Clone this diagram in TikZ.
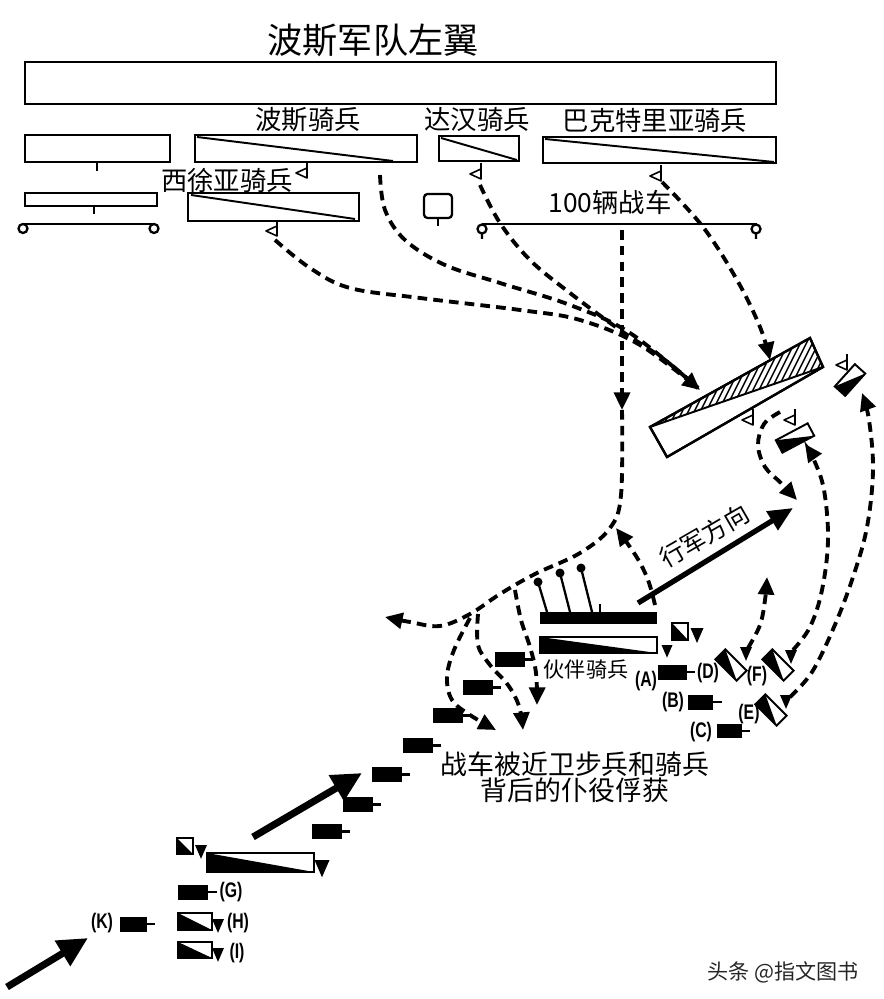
\documentclass[tikz,border=0pt]{standalone}
\usepackage{fontspec}
\setmainfont{Noto Sans CJK SC}
\newfontfamily\letterfont{Liberation Sans}[FakeStretch=0.75]
\usetikzlibrary{arrows.meta}

% open flag below a unit: stem and left-pointing triangle
\newcommand{\flagmark}[2]{%
  \draw[flagline] (#1,#2-11) -- (#1,#2+5);
  \draw[flagline] (#1,#2-5) -- (#1-11,#2) -- (#1,#2+5) -- cycle;}
% filled commander pennant (x, top, width)
\newcommand{\downmark}[3]{%
  \fill (#1-#3/2,#2) -- (#1+#3/2,#2) -- (#1,#2+#3*1.15) -- cycle;}

\begin{document}
\begin{tikzpicture}[
          x=0.02cm, y=-0.02cm,
          unitbox/.style={line width=1.3pt},
          unitslash/.style={line width=1.1pt},
          unitstem/.style={line width=1.3pt},
          flagline/.style={line width=0.9pt, line join=round},
          route/.style={line width=2.2pt, dash pattern=on 5.5pt off 3.5pt},
          routehead/.style={-{Triangle[length=10pt,width=9pt]}},
          thrust/.style={line width=4pt, -{Triangle[length=17pt,width=16pt]}},
          stub/.style={line width=1.3pt},
          lbl/.style={font=\fontsize{15}{15}\selectfont, inner sep=0pt},
          tag/.style={font=\letterfont\bfseries\fontsize{12}{12}\selectfont, inner sep=0pt},
          cavalry/.pic={
            \draw[line width=1.1pt, fill=white] (-15,-7) rectangle (15,7);
            \fill (-15,-7) -- (-15,7) -- (15,7) -- cycle;
          }
        ]
        \path[use as bounding box] (0,0) rectangle (884,999);

        % --- Ala izquierda persa ---
        \node[font=\fontsize{20}{20}\selectfont, inner sep=0pt] (title) at (373,40) {波斯军队左翼};
        \draw[unitbox] (25,62) rectangle (776,104);

        % --- Segunda fila ---
        \draw[unitbox] (25,135) rectangle (170,162);
        \draw[unitstem] (97,162) -- (97,171);
        \draw[unitbox] (195,135) rectangle (417,162);
        \draw[unitslash] (197,137) -- (393,161);
        \node[lbl] (persiancav) at (308,120) {波斯骑兵};
        \flagmark{307}{173}
        \draw[unitbox] (439,136) rectangle (519,161);
        \draw[unitslash] (441,138) -- (517,160);
        \node[lbl] (dahaecav) at (477,120) {达汉骑兵};
        \flagmark{481}{174}
        \draw[unitbox] (543,137) rectangle (776,163);
        \draw[unitslash] (545,139) -- (774,162);
        \node[lbl] (bactriancav) at (655,121) {巴克特里亚骑兵};
        \flagmark{661}{176}

        % --- Tercera fila ---
        \draw[unitbox] (25,193) rectangle (157,206);
        \draw[unitstem] (94,206) -- (94,214);
        \draw[unitstem] (23,224) -- (154,224);
        \draw[unitstem] (23,228.5) circle (4.5);
        \draw[unitstem] (154,228.5) circle (4.5);
        \node[lbl] (scythiancav) at (227,180) {西徐亚骑兵};
        \draw[unitbox] (188,193) rectangle (359,221);
        \draw[unitslash] (191,195) -- (355,219);
        \flagmark{277}{231}
        \draw[unitbox, rounded corners=2pt] (424,194) rectangle (452,218);
        \draw[unitstem] (438,218) -- (438,226);
        \node[lbl] (chariotlbl) at (610,202) {100辆战车};
        \draw[unitstem] (482,224) -- (757,224);
        \draw[unitstem] (482,229) circle (4.5) (482,233.5) -- (482,239);
        \draw[unitstem] (756,229) circle (4.5) (756,233.5) -- (756,239);

        % --- Rutas desde la ala persa ---
        \draw[route, routehead] plot[smooth, tension=0.6] coordinates
              {(275,240) (310,268) (350,288) (420,298) (520,310) (580,320) (640,345) (700,390)};
        \draw[route] plot[smooth, tension=0.6] coordinates
              {(380,175) (385,210) (405,240) (445,265) (500,283) (570,305) (630,333) (698,388)};
        \draw[route] plot[smooth, tension=0.6] coordinates
              {(480,185) (500,223) (530,260) (570,293) (620,330) (665,360) (698,388)};
        \draw[route, routehead] plot[smooth, tension=0.6] coordinates
              {(662,182) (703,227) (737,280) (760,327) (770,360)};

        % --- Ruta de los carros ---
        \draw[route, routehead] (622,230) -- (622,410);
        \draw[route, routehead] plot[smooth, tension=0.6] coordinates
              {(622,410) (621,495) (610,528) (580,553) (535,574) (500,594) (470,614) (440,626) (410,622) (385,617)};
        \draw[route, routehead] plot[smooth, tension=0.6] coordinates
              {(515,590) (521,620) (530,647) (536,673) (537,705)};
        \draw[route, routehead] plot[smooth, tension=0.6] coordinates
              {(478,614) (478,645) (490,665) (508,685) (519,706) (523,730)};
        \draw[route, routehead] plot[smooth, tension=0.6] coordinates
              {(470,618) (454,650) (447,677) (452,700) (470,715) (496,730)};
        \draw[route, routehead] plot[smooth, tension=0.6] coordinates
              {(655,605) (648,580) (636,556) (616,528)};

        % --- Caballeria bactriana atacada ---
        \draw[unitbox, fill=white] (650,427) -- (810,338) -- (823,367) -- (667,457) -- cycle;
        \begin{scope}
          \clip (650,427) -- (810,338) -- (823,367) -- cycle;
          \foreach \i in {0,...,42}
            \draw[line width=0.8pt] (580+\i*6,460) -- ++(70,-140);
        \end{scope}
        \draw[unitbox] (650,427) -- (810,338) -- (823,367) -- (667,457) -- cycle;
        \draw[unitslash] (650,427) -- (823,367);
        \flagmark{753}{420}

        % --- Unidades de la derecha ---
        \pic[rotate=48] at (850,380) {cavalry};
        \flagmark{847}{365}
        \pic[rotate=28, xscale=1.2] at (795,438) {cavalry};
        \flagmark{795}{420}
        \draw[route, routehead] plot[smooth, tension=0.6] coordinates
              {(780,412) (764,424) (758,445) (765,467) (781,483) (797,500)};
        \draw[route, routehead] plot[smooth, tension=0.6] coordinates
              {(793,650) (810,627) (822,590) (828,540) (824,490) (814,460) (805,444)};
        \draw[route, routehead] plot[smooth, tension=0.6] coordinates
              {(790,697) (812,672) (834,627) (853,577) (867,527) (873,470) (869,420) (862,393)};
        \draw[route, routehead] plot[smooth, tension=0.6] coordinates
              {(748,648) (760,625) (765,600) (767,577)};

        % --- Direccion de marcha ---
        \draw[thrust, line width=3pt, -{Triangle[length=14pt,width=12pt]}] (638,603) -- (793,508);
        \node[lbl, font=\fontsize{14}{14}\selectfont, rotate=30] (marchlbl) at (704,536) {行军方向};

        % --- Carros y caballeria de compañeros ---
        \fill (540,612) rectangle (657,624);
        \draw[unitstem] (600,612) -- (600,604);
        \foreach \sx/\dx/\dy in {547/538/582, 570/560/573, 592/581/568} {
          \draw[unitstem] (\sx,612) -- (\dx,\dy);
          \fill (\dx,\dy) circle (4.5);
        }
        \draw[unitbox, fill=white] (540,637) rectangle (657,653);
        \fill (540,637) -- (540,653) -- (657,653) -- cycle;
        \downmark{667}{645}{11}
        \node[lbl, font=\fontsize{12}{12}\selectfont] (companion) at (586,669) {伙伴骑兵};
        \draw[unitbox, fill=white] (672,623) rectangle (688,640);
        \fill (672,623) -- (672,640) -- (688,640) -- cycle;
        \downmark{697}{628}{13}

        % --- Carros capturados ---
        \foreach \x/\y in {495/652, 463/680, 433/708, 403/738, 372/767, 343/797, 312/824} {
          \fill (\x,\y) rectangle ++(30,15);
          \draw[stub] (\x+30,\y+7.5) -- ++(8,0);
        }
        \node[lbl, font=\fontsize{15.3}{14.7}\selectfont, align=center] (capture) at (575,777)
              {战车被近卫步兵和骑兵\\背后的仆役俘获};

        % --- Unidades (A) a (F) ---
        \fill (658,665) rectangle (687,680);
        \draw[stub] (687,672) -- (695,672);
        \node[tag] (tagA) at (646,681) {(A)};
        \fill (688,695) rectangle (713,710);
        \draw[stub] (713,702) -- (722,702);
        \node[tag] (tagB) at (673,702) {(B)};
        \fill (717,724) rectangle (742,738);
        \draw[stub] (742,731) -- (750,731);
        \node[tag] (tagC) at (701,732) {(C)};
        \pic[rotate=-45] at (731,665) {cavalry};
        \downmark{746}{647}{12}
        \node[tag] (tagD) at (708,673) {(D)};
        \pic[rotate=-45] at (778,665) {cavalry};
        \downmark{791}{650}{12}
        \node[tag] (tagF) at (757,676) {(F)};
        \pic[rotate=-45] at (771,710) {cavalry};
        \downmark{786}{695}{12}
        \node[tag] (tagE) at (749,714) {(E)};

        % --- Grupo inferior izquierdo ---
        \draw[thrust] (253,837) -- (362,773);
        \draw[thrust] (7,987) -- (88,938);
        \draw[unitbox, fill=white] (177,838) rectangle (193,854);
        \fill (177,838) -- (177,854) -- (193,854) -- cycle;
        \downmark{201}{845}{12}
        \draw[unitbox, fill=white] (207,853) rectangle (314,872);
        \fill (207,853) -- (207,872) -- (314,872) -- cycle;
        \downmark{322}{860}{15}
        \fill (178,885) rectangle (208,900);
        \draw[stub] (208,892) -- (217,892);
        \node[tag] (tagG) at (231,892) {(G)};
        \draw[unitbox, fill=white] (178,913) rectangle (212,930);
        \fill (178,913) -- (178,930) -- (212,930) -- cycle;
        \downmark{218}{919}{12}
        \node[tag] (tagH) at (238,923) {(H)};
        \draw[unitbox, fill=white] (178,942) rectangle (212,958);
        \fill (178,942) -- (178,958) -- (212,958) -- cycle;
        \downmark{218}{948}{12}
        \node[tag] (tagI) at (237,953) {(I)};
        \fill (120,917) rectangle (147,932);
        \draw[stub] (147,924) -- (155,924);
        \node[tag] (tagK) at (102,923) {(K)};

        % --- Marca ---
        \node[font=\fontsize{12}{12}\selectfont, text=black!85, inner sep=0pt] (mark) at (783,972) {头条 @指文图书};

\end{tikzpicture}
\end{document}
